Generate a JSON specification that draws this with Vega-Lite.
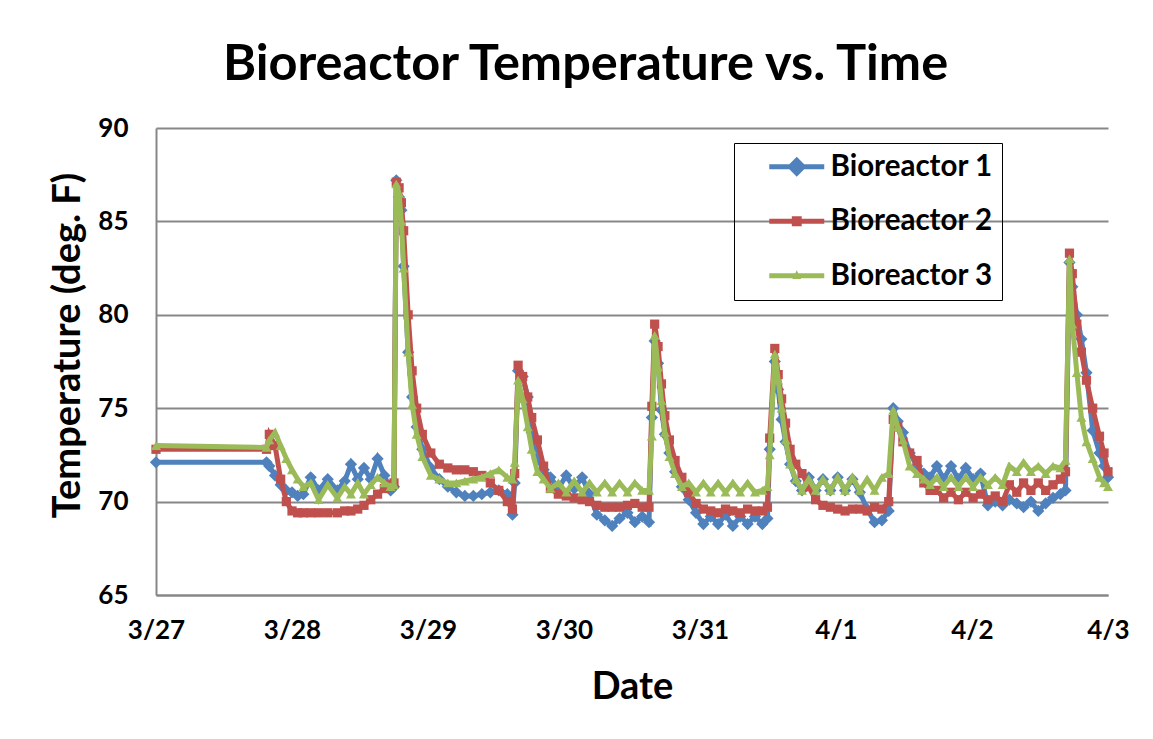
{
  "$schema": "https://vega.github.io/schema/vega-lite/v6.json",
  "autosize": {"type": "none"},
  "width": 952,
  "height": 467,
  "padding": {"left": 156, "top": 128, "right": 45, "bottom": 144},
  "background": "white",
  "title": {"text": "Bioreactor Temperature vs. Time", "font": "Lato", "fontSize": 50.5, "fontWeight": "bold", "color": "black", "anchor": "middle", "frame": "bounds", "offset": 25, "dx": -4},
  "config": {
    "view": {"stroke": null},
    "axis": {"gridColor": "#878787", "gridWidth": 2, "domainColor": "#878787", "domainWidth": 2, "ticks": false, "labelFont": "Lato", "labelFontSize": 26, "labelFontWeight": "bold", "labelColor": "black", "titleFont": "Lato", "titleFontSize": 38, "titleFontWeight": "bold", "titleColor": "black"},
    "axisY": {"grid": true, "labelPadding": 28, "titlePadding": 10, "titleY": 217},
    "axisX": {"grid": false, "labelPadding": 22, "titlePadding": 25, "labelFlush": false, "labelOverlap": false}
  },
  "datasets": {
    "temps": [
      {"h": 0, "a": 72.1, "b": 72.8, "c": 73.0},
      {"h": 19.5, "a": 72.1, "b": 72.8, "c": 72.9},
      {"h": 20, "a": 71.9, "b": 73.6, "c": 73.3},
      {"h": 21, "a": 71.4, "b": 73.0, "c": 73.7},
      {"h": 22, "a": 70.9, "b": 71.2, "c": 73.0},
      {"h": 23, "a": 70.6, "b": 70.0, "c": 72.3},
      {"h": 24, "a": 70.5, "b": 69.5, "c": 71.7},
      {"h": 25, "a": 70.3, "b": 69.4, "c": 71.2},
      {"h": 26, "a": 70.4, "b": 69.4, "c": 70.8},
      {"h": 27.3, "a": 71.3, "b": 69.4, "c": 71.0},
      {"h": 28.7, "a": 70.6, "b": 69.4, "c": 70.1},
      {"h": 30.3, "a": 71.2, "b": 69.4, "c": 70.9},
      {"h": 32, "a": 70.6, "b": 69.4, "c": 70.2},
      {"h": 33.3, "a": 71.1, "b": 69.5, "c": 70.8},
      {"h": 34.4, "a": 72.0, "b": 69.5, "c": 70.4},
      {"h": 35.6, "a": 71.2, "b": 69.6, "c": 71.0},
      {"h": 36.7, "a": 71.8, "b": 69.8, "c": 70.4},
      {"h": 37.9, "a": 71.2, "b": 70.1, "c": 70.9},
      {"h": 39.1, "a": 72.3, "b": 70.4, "c": 71.3},
      {"h": 40.3, "a": 71.4, "b": 70.7, "c": 71.0},
      {"h": 41.4, "a": 70.6, "b": 70.9, "c": 70.8},
      {"h": 42.0, "a": 70.8, "b": 71.0, "c": 70.9},
      {"h": 42.4, "a": 87.2, "b": 87.1, "c": 87.0},
      {"h": 42.9, "a": 86.3, "b": 86.8, "c": 86.5},
      {"h": 43.3, "a": 85.6, "b": 86.0, "c": 85.0},
      {"h": 43.7, "a": 82.6, "b": 84.5, "c": 82.5},
      {"h": 44.5, "a": 78.0, "b": 80.0, "c": 78.0},
      {"h": 45.2, "a": 75.6, "b": 77.0, "c": 75.2},
      {"h": 46, "a": 74.0, "b": 75.0, "c": 73.6},
      {"h": 47, "a": 72.8, "b": 73.6, "c": 72.4},
      {"h": 48.5, "a": 71.8, "b": 72.6, "c": 71.4},
      {"h": 50, "a": 71.2, "b": 72.0, "c": 71.2},
      {"h": 51.5, "a": 70.8, "b": 71.8, "c": 71.0},
      {"h": 53, "a": 70.5, "b": 71.7, "c": 71.0},
      {"h": 54.5, "a": 70.3, "b": 71.7, "c": 71.1},
      {"h": 56, "a": 70.3, "b": 71.6, "c": 71.2},
      {"h": 57.5, "a": 70.4, "b": 71.4, "c": 71.3},
      {"h": 59, "a": 70.5, "b": 71.0, "c": 71.5},
      {"h": 60.5, "a": 70.6, "b": 70.6, "c": 71.7},
      {"h": 62, "a": 70.4, "b": 70.0, "c": 71.3},
      {"h": 62.9, "a": 69.3, "b": 69.6, "c": 71.2},
      {"h": 63.3, "a": 71.0, "b": 71.5, "c": 72.1},
      {"h": 63.9, "a": 77.0, "b": 77.3, "c": 76.5},
      {"h": 64.7, "a": 76.7, "b": 76.7, "c": 75.5},
      {"h": 65.6, "a": 75.6, "b": 75.6, "c": 74.0},
      {"h": 66.3, "a": 73.7, "b": 74.5, "c": 72.8},
      {"h": 67.3, "a": 72.3, "b": 73.3, "c": 71.6},
      {"h": 68.4, "a": 71.7, "b": 71.9, "c": 71.2},
      {"h": 69.6, "a": 71.3, "b": 70.7, "c": 70.7},
      {"h": 71, "a": 70.7, "b": 70.4, "c": 71.0},
      {"h": 72.4, "a": 71.4, "b": 70.3, "c": 70.5},
      {"h": 73.8, "a": 70.7, "b": 70.2, "c": 71.1},
      {"h": 75.2, "a": 71.3, "b": 70.1, "c": 70.5},
      {"h": 76.5, "a": 70.4, "b": 70.0, "c": 71.0},
      {"h": 77.8, "a": 69.3, "b": 69.8, "c": 70.5},
      {"h": 79.2, "a": 69.0, "b": 69.7, "c": 71.0},
      {"h": 80.5, "a": 68.7, "b": 69.7, "c": 70.5},
      {"h": 81.8, "a": 69.1, "b": 69.7, "c": 71.0},
      {"h": 83.2, "a": 69.4, "b": 69.8, "c": 70.5},
      {"h": 84.5, "a": 68.9, "b": 69.9, "c": 71.0},
      {"h": 85.8, "a": 69.2, "b": 69.7, "c": 70.6},
      {"h": 87.0, "a": 68.9, "b": 69.7, "c": 70.6},
      {"h": 87.5, "a": 74.5, "b": 75.1, "c": 73.5},
      {"h": 88.0, "a": 78.6, "b": 79.5, "c": 78.9},
      {"h": 88.6, "a": 77.4, "b": 78.3, "c": 77.2},
      {"h": 89.2, "a": 74.9, "b": 76.3, "c": 75.4},
      {"h": 89.8, "a": 73.6, "b": 74.6, "c": 73.7},
      {"h": 90.6, "a": 72.6, "b": 73.3, "c": 72.4},
      {"h": 91.6, "a": 71.6, "b": 72.2, "c": 71.5},
      {"h": 92.8, "a": 70.8, "b": 71.3, "c": 70.8},
      {"h": 94.0, "a": 70.1, "b": 70.5, "c": 71.0},
      {"h": 95.3, "a": 69.4, "b": 69.9, "c": 70.5},
      {"h": 96.6, "a": 68.8, "b": 69.6, "c": 71.0},
      {"h": 97.9, "a": 69.2, "b": 69.5, "c": 70.5},
      {"h": 99.2, "a": 68.8, "b": 69.4, "c": 71.0},
      {"h": 100.5, "a": 69.3, "b": 69.6, "c": 70.5},
      {"h": 101.8, "a": 68.7, "b": 69.5, "c": 71.0},
      {"h": 103.1, "a": 69.2, "b": 69.4, "c": 70.5},
      {"h": 104.4, "a": 68.8, "b": 69.6, "c": 71.0},
      {"h": 105.7, "a": 69.2, "b": 69.5, "c": 70.5},
      {"h": 107.0, "a": 68.8, "b": 69.5, "c": 70.6},
      {"h": 107.9, "a": 69.1, "b": 69.7, "c": 70.8},
      {"h": 108.3, "a": 72.8, "b": 73.4, "c": 72.5},
      {"h": 109.2, "a": 77.5, "b": 78.2, "c": 77.9},
      {"h": 109.8, "a": 76.0, "b": 76.8, "c": 76.5},
      {"h": 110.4, "a": 74.4, "b": 75.5, "c": 75.0},
      {"h": 111.1, "a": 73.2, "b": 74.2, "c": 73.3},
      {"h": 111.9, "a": 72.0, "b": 72.8, "c": 72.0},
      {"h": 112.9, "a": 71.1, "b": 72.0, "c": 71.2},
      {"h": 114.0, "a": 70.6, "b": 71.5, "c": 70.6},
      {"h": 115.2, "a": 71.3, "b": 70.8, "c": 71.2},
      {"h": 116.4, "a": 70.6, "b": 70.1, "c": 70.6},
      {"h": 117.7, "a": 71.2, "b": 69.8, "c": 71.2},
      {"h": 119.0, "a": 70.6, "b": 69.7, "c": 70.6},
      {"h": 120.3, "a": 71.3, "b": 69.6, "c": 71.3},
      {"h": 121.6, "a": 70.6, "b": 69.5, "c": 70.6},
      {"h": 122.9, "a": 71.2, "b": 69.6, "c": 71.3},
      {"h": 124.2, "a": 70.5, "b": 69.6, "c": 70.6},
      {"h": 125.5, "a": 69.6, "b": 69.5, "c": 71.2},
      {"h": 126.8, "a": 68.9, "b": 69.7, "c": 70.6},
      {"h": 128.1, "a": 69.0, "b": 69.6, "c": 71.3},
      {"h": 129.3, "a": 69.5, "b": 70.0, "c": 71.5},
      {"h": 130.1, "a": 75.0, "b": 74.4, "c": 74.9},
      {"h": 130.9, "a": 74.3, "b": 74.0, "c": 74.0},
      {"h": 131.8, "a": 73.7, "b": 73.2, "c": 73.3},
      {"h": 133.0, "a": 72.6, "b": 72.6, "c": 71.9},
      {"h": 134.3, "a": 71.9, "b": 72.2, "c": 71.5},
      {"h": 135.5, "a": 71.5, "b": 71.0, "c": 71.2},
      {"h": 136.6, "a": 71.3, "b": 70.6, "c": 70.9},
      {"h": 137.8, "a": 71.9, "b": 70.6, "c": 71.3},
      {"h": 139.0, "a": 71.2, "b": 70.2, "c": 70.8},
      {"h": 140.3, "a": 71.9, "b": 70.5, "c": 71.3},
      {"h": 141.6, "a": 71.2, "b": 70.1, "c": 70.8},
      {"h": 142.9, "a": 71.8, "b": 70.5, "c": 71.3},
      {"h": 144.2, "a": 71.2, "b": 70.2, "c": 70.8},
      {"h": 145.5, "a": 71.5, "b": 70.4, "c": 71.3},
      {"h": 146.8, "a": 69.8, "b": 70.1, "c": 70.9},
      {"h": 148.1, "a": 70.0, "b": 70.3, "c": 71.3},
      {"h": 149.4, "a": 69.8, "b": 70.0, "c": 70.9},
      {"h": 150.6, "a": 70.1, "b": 70.9, "c": 71.9},
      {"h": 151.9, "a": 69.9, "b": 70.5, "c": 71.6},
      {"h": 153.1, "a": 69.7, "b": 71.0, "c": 72.1},
      {"h": 154.4, "a": 70.0, "b": 70.6, "c": 71.6},
      {"h": 155.7, "a": 69.5, "b": 71.0, "c": 71.9},
      {"h": 157.0, "a": 69.9, "b": 70.6, "c": 71.5},
      {"h": 158.3, "a": 70.2, "b": 70.9, "c": 71.9},
      {"h": 159.6, "a": 70.4, "b": 71.2, "c": 71.8},
      {"h": 160.5, "a": 70.6, "b": 71.6, "c": 72.2},
      {"h": 161.2, "a": 82.8, "b": 83.3, "c": 83.0},
      {"h": 161.7, "a": 81.5, "b": 82.2, "c": 79.5},
      {"h": 162.5, "a": 80.0, "b": 79.5, "c": 76.9},
      {"h": 163.3, "a": 78.7, "b": 78.0, "c": 74.5},
      {"h": 164.2, "a": 76.9, "b": 76.5, "c": 73.2},
      {"h": 165.3, "a": 73.8, "b": 75.0, "c": 72.3},
      {"h": 166.5, "a": 72.6, "b": 73.5, "c": 71.3},
      {"h": 167.3, "a": 71.9, "b": 72.6, "c": 71.0},
      {"h": 168.0, "a": 71.3, "b": 71.6, "c": 70.8}
    ],
    "names": [
      {"s": "Bioreactor 1"},
      {"s": "Bioreactor 2"},
      {"s": "Bioreactor 3"}
    ]
  },
  "data": {"name": "temps"},
  "encoding": {
    "x": {
      "field": "h", "type": "quantitative",
      "scale": {"domain": [0, 168], "nice": false, "zero": false},
      "axis": {"values": [0, 24, 48, 72, 96, 120, 144, 168], "title": "Date", "labelExpr": "['3/27','3/28','3/29','3/30','3/31','4/1','4/2','4/3'][round(datum.value/24)]"}
    }
  },
  "layer": [
    {"mark": {"type": "line", "color": "#4F81BD", "strokeWidth": 5},
     "encoding": {"y": {"field": "a", "type": "quantitative", "title": "Temperature (deg. F)", "scale": {"domain": [65, 90], "nice": false, "zero": false}, "axis": {"values": [65, 70, 75, 80, 85, 90]}}}},
    {"mark": {"type": "point", "shape": "diamond", "filled": true, "color": "#4F81BD", "size": 150, "opacity": 1},
     "encoding": {"y": {"field": "a", "type": "quantitative", "title": "Temperature (deg. F)", "scale": {"domain": [65, 90], "nice": false, "zero": false}}}},
    {"mark": {"type": "line", "color": "#C0504D", "strokeWidth": 5},
     "encoding": {"y": {"field": "b", "type": "quantitative", "title": "Temperature (deg. F)", "scale": {"domain": [65, 90], "nice": false, "zero": false}}}},
    {"mark": {"type": "point", "shape": "square", "filled": true, "color": "#C0504D", "size": 85, "opacity": 1},
     "encoding": {"y": {"field": "b", "type": "quantitative", "title": "Temperature (deg. F)", "scale": {"domain": [65, 90], "nice": false, "zero": false}}}},
    {"mark": {"type": "line", "color": "#9BBB59", "strokeWidth": 5},
     "encoding": {"y": {"field": "c", "type": "quantitative", "title": "Temperature (deg. F)", "scale": {"domain": [65, 90], "nice": false, "zero": false}}}},
    {"mark": {"type": "point", "shape": "triangle-up", "filled": true, "color": "#9BBB59", "size": 100, "opacity": 1},
     "encoding": {"y": {"field": "c", "type": "quantitative", "title": "Temperature (deg. F)", "scale": {"domain": [65, 90], "nice": false, "zero": false}}}},
    {"data": {"name": "names"},
     "transform": [{"filter": "false"}],
     "mark": {"type": "point", "filled": true, "opacity": 1},
     "encoding": {
       "x": null,
       "color": {"field": "s", "type": "nominal",
         "scale": {"domain": ["Bioreactor 1", "Bioreactor 2", "Bioreactor 3"], "range": ["#4F81BD", "#C0504D", "#9BBB59"]},
         "legend": {"title": null, "orient": "none", "legendX": 578, "legendY": 15, "strokeColor": "black", "padding": 9, "symbolSize": 756, "symbolStrokeWidth": 0, "symbolOffset": 39, "labelFont": "Lato", "labelFontSize": 29.5, "labelFontWeight": "bold", "labelColor": "black", "labelOffset": 19, "labelLimit": 400, "rowPadding": 23.5}},
       "shape": {"field": "s", "type": "nominal",
         "scale": {"domain": ["Bioreactor 1", "Bioreactor 2", "Bioreactor 3"], "range": [
           "M-2,-0.18L-0.54,-0.18L0,-0.72L0.54,-0.18L2,-0.18L2,0.18L0.54,0.18L0,0.72L-0.54,0.18L-2,0.18Z",
           "M-2,-0.18L-0.36,-0.18L-0.36,-0.36L0.36,-0.36L0.36,-0.18L2,-0.18L2,0.18L0.36,0.18L0.36,0.36L-0.36,0.36L-0.36,0.18L-2,0.18Z",
           "M-2,-0.18L-0.11,-0.18L0,-0.4L0.11,-0.18L2,-0.18L2,0.18L0.29,0.18L0.32,0.24L-0.32,0.24L-0.29,0.18L-2,0.18Z"]},
         "legend": {"title": null, "orient": "none", "legendX": 578, "legendY": 15, "strokeColor": "black", "padding": 9, "symbolSize": 756, "symbolStrokeWidth": 0, "symbolOffset": 39, "labelFont": "Lato", "labelFontSize": 29.5, "labelFontWeight": "bold", "labelColor": "black", "labelOffset": 19, "labelLimit": 400, "rowPadding": 23.5}}
     }}
  ]
}
